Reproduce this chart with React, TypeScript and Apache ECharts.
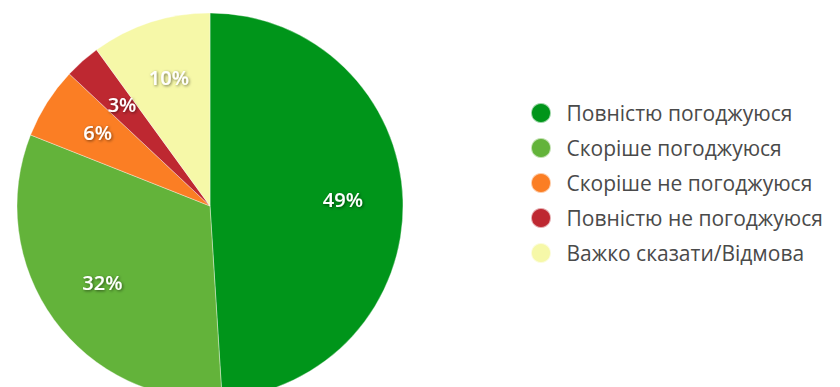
import React, { useEffect, useRef } from "react";
import * as echarts from "echarts";

const categories = [
  "Повністю погоджуюся",
  "Скоріше погоджуюся",
  "Скоріше не погоджуюся",
  "Повністю не погоджуюся",
  "Важко сказати/Відмова",
];
const values = [49, 32, 6, 3, 10];
const colors = ["#00951a", "#63b33a", "#fb7e24", "#be2831", "#f6f8a8"];

export default function App() {
  const ref = useRef<HTMLDivElement>(null);
  useEffect(() => {
    if (!ref.current) return;
    const chart = echarts.init(ref.current, null, { renderer: "svg" });
    const data = categories.map((name, i) => ({
      name,
      value: values[i],
      itemStyle: { color: colors[i] },
    }));
    chart.setOption({
      animation: false,
      legend: {
        orient: "vertical",
        left: 517,
        top: 89,
        icon: "circle",
        itemWidth: 27,
        itemHeight: 20,
        itemGap: 13,
        data: categories,
        textStyle: {
          fontFamily: "Open Sans",
          fontSize: 21,
          lineHeight: 20,
          color: "#4a4a4a",
          padding: [0, 0, 0, 7],
        },
      },
      series: [
        {
          type: "pie",
          center: [202, 198],
          radius: [0, 193],
          startAngle: 90,
          clockwise: true,
          silent: true,
          label: { show: false },
          labelLine: { show: false },
          itemStyle: { borderColor: "rgba(255,255,255,0.6)", borderWidth: 0.6 },
          data,
        },
        {
          type: "pie",
          center: [202, 196],
          radius: [67, 193],
          startAngle: 90,
          clockwise: true,
          silent: true,
          itemStyle: { color: "rgba(0,0,0,0)" },
          label: {
            show: true,
            position: "inside",
            formatter: "{c}%",
            color: "#ffffff",
            fontFamily: "Open Sans",
            fontWeight: 600,
            fontSize: 20,
            textShadowColor: "rgba(0,0,0,0.55)",
            textShadowBlur: 3,
            textShadowOffsetX: 1,
            textShadowOffsetY: 1,
          },
          labelLine: { show: false },
          data: categories.map((name, i) => ({ name, value: values[i] })),
        },
      ],
    });
    return () => chart.dispose();
  }, []);
  return <div ref={ref} style={{ width: 824, height: 379 }} />;
}
